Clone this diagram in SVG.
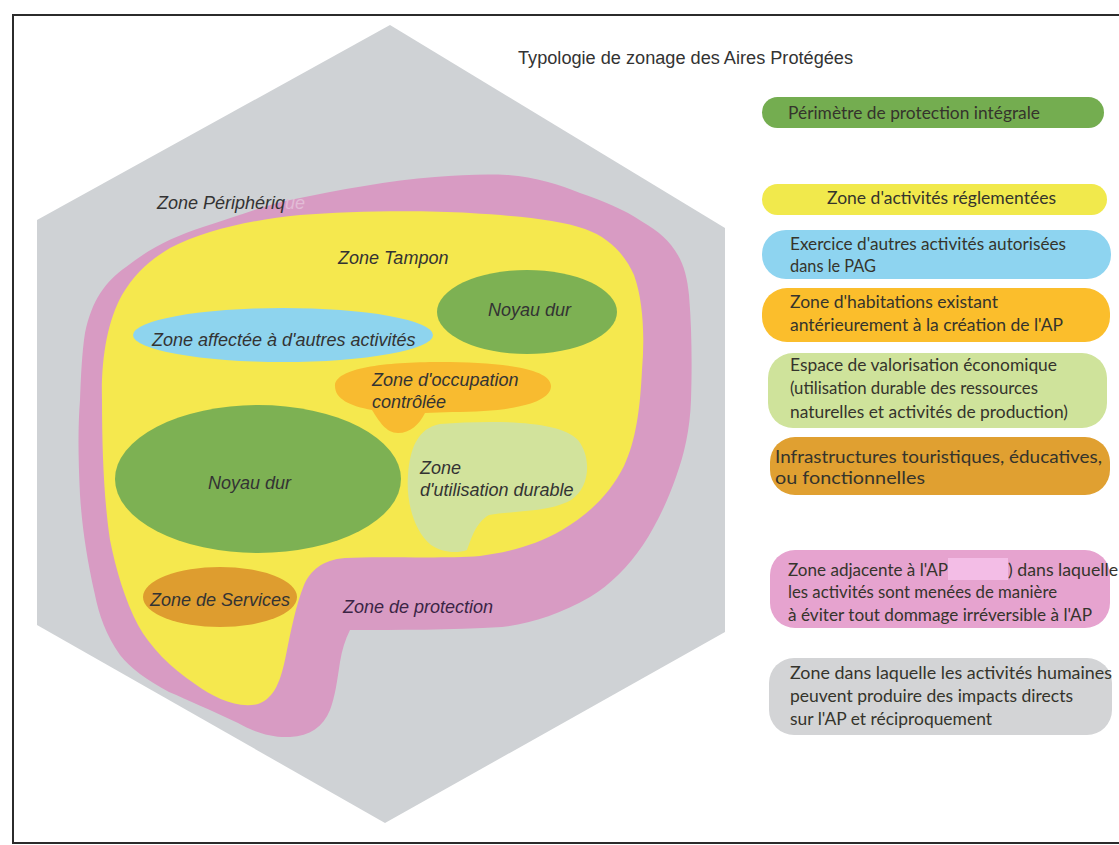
<svg xmlns="http://www.w3.org/2000/svg" width="1119" height="845" viewBox="0 0 1119 845">
<style>
.lbl{font-family:"Liberation Sans",Arial,sans-serif;font-style:italic;font-size:18px;fill:#333;}
.ttl{font-family:"Liberation Sans",Arial,sans-serif;font-size:18px;fill:#333;}
.leg{font-family:Lato,"Open Sans",sans-serif;font-size:16.5px;fill:#35342c;}
</style>
<rect x="0" y="0" width="1119" height="845" fill="#ffffff"/>
<rect x="13" y="15" width="1130" height="828" fill="none" stroke="#2b2b2b" stroke-width="2"/>
<text class="ttl" x="518" y="64" textLength="335" lengthAdjust="spacingAndGlyphs">Typologie de zonage des Aires Protégées</text>

<g id="zone-peripherique-hex">
<polygon points="390,25 725,228 725,632 385,823 37,625 37,220" fill="#cfd2d5"/>
</g>
<g id="zone-protection">
<path fill="#d89bc3" d="M 85,333 C 92,300 105,282 126,267 C 150,248 175,236 203,227 C 235,217 262,206 290,200 C 340,190 390,180 435,177 C 460,175 485,174 507,175 C 535,177 560,185 580,193 C 600,200 615,206 628,213 C 648,225 662,233 671,245 C 683,260 687,275 689,295 C 692,330 692,370 691,400 C 690,430 684,455 676,477 C 666,505 656,525 643,545 C 628,567 610,585 590,597 C 560,614 530,624 502,627 C 450,630 400,630 350,630 C 345,640 342,650 340,662 C 337,682 335,697 330,710 C 323,727 310,736 290,737 C 270,738 252,731 238,723 C 210,710 188,700 169,692 C 147,680 130,668 120,655 C 106,635 99,615 95,595 C 86,555 82,525 80,495 C 78,455 78,425 80,400 C 81,375 82,352 85,333 Z"/>
</g>
<g id="zone-tampon">
<path fill="#f5e84e" d="M 102,400 C 101,360 107,322 122,295 C 135,273 150,260 170,248 C 205,230 250,220 300,215 C 350,211 420,210 470,213 C 520,216 560,220 585,229 C 610,238 625,255 634,275 C 643,300 645,335 642,370 C 640,410 636,440 624,466 C 610,494 588,515 562,530 C 536,545 510,552 480,556 C 440,559 380,556 345,558 C 322,560 311,570 304,585 C 296,605 291,630 286,655 C 281,680 275,698 258,704 C 238,709 214,698 195,684 C 170,667 150,647 138,625 C 125,600 116,570 110,540 C 104,500 102,450 102,400 Z"/>
</g>

<g id="noyau-dur-1">
<ellipse cx="527" cy="312" rx="90" ry="42" fill="#7db153"/>
<text class="lbl" x="488" y="316">Noyau dur</text>
</g>
<g id="zone-affectee">
<ellipse cx="283" cy="335" rx="150" ry="27" fill="#8ed4ee"/>
<text class="lbl" x="152" y="346">Zone affectée à d'autres activités</text>
</g>
<g id="zone-occupation">
<path fill="#f8bb30" d="M 335,386 C 335,368 385,362 440,362 C 500,362 551,368 551,386 C 551,403 512,412 452,412 L 425,413 C 419,425 410,433 398,433 C 386,433 379,421 372,410 C 350,406 335,399 335,386 Z"/>
<text class="lbl" x="372" y="386">Zone d'occupation</text>
<text class="lbl" x="372" y="408">contrôlée</text>
</g>
<g id="noyau-dur-2">
<ellipse cx="258" cy="479" rx="143" ry="74" fill="#7db153"/>
<text class="lbl" x="208" y="489">Noyau dur</text>
</g>
<g id="zone-utilisation-durable">
<path fill="#d2e39c" d="M 440,424 C 490,420 560,420 578,440 C 592,458 590,488 571,500 C 551,512 512,511 489,515 C 475,523 471,540 467,550 C 456,554 441,552 431,545 C 413,530 406,500 408,475 C 410,448 418,428 440,424 Z"/>
<text class="lbl" x="420" y="474">Zone</text>
<text class="lbl" x="420" y="496">d'utilisation durable</text>
</g>
<g id="zone-services">
<ellipse cx="220" cy="597" rx="77" ry="30" fill="#de9d2f"/>
<text class="lbl" x="150" y="606">Zone de Services</text>
</g>
<g id="labels">
<text class="lbl" x="157" y="209">Zone Périphériq<tspan fill="#e2bcd6">ue</tspan></text>
<text class="lbl" x="338" y="264">Zone Tampon</text>
<text class="lbl" x="343" y="613" style="fill:#3b2545">Zone de protection</text>
</g>

<g id="leg-perimetre">
<rect x="762" y="97" width="342" height="31" rx="15.5" fill="#74ad50"/>
<text class="leg" x="788" y="119" textLength="252" lengthAdjust="spacingAndGlyphs">Périmètre de protection intégrale</text>
</g>
<g id="leg-activites-reglementees">
<rect x="762" y="184" width="345" height="31" rx="15.5" fill="#f1e94c"/>
<text class="leg" x="827" y="204" textLength="229" lengthAdjust="spacingAndGlyphs">Zone d'activités réglementées</text>
</g>
<g id="leg-autres-activites">
<rect x="762" y="230" width="349" height="49" rx="24" fill="#8ed4f0"/>
<text class="leg" x="790" y="250" textLength="276" lengthAdjust="spacingAndGlyphs">Exercice d'autres activités autorisées</text>
<text class="leg" x="790" y="272" textLength="86" lengthAdjust="spacingAndGlyphs">dans le PAG</text>
</g>
<g id="leg-habitations">
<rect x="762" y="288" width="348" height="54" rx="25" fill="#fbbe2c"/>
<text class="leg" x="790" y="308" textLength="208" lengthAdjust="spacingAndGlyphs">Zone d'habitations existant</text>
<text class="leg" x="790" y="331" textLength="273" lengthAdjust="spacingAndGlyphs">antérieurement à la création de l'AP</text>
</g>
<g id="leg-valorisation">
<rect x="768" y="353" width="339" height="75" rx="25" fill="#cfe39b"/>
<text class="leg" x="790" y="371" textLength="267" lengthAdjust="spacingAndGlyphs">Espace de valorisation économique</text>
<text class="leg" x="790" y="394" textLength="248" lengthAdjust="spacingAndGlyphs">(utilisation durable des ressources</text>
<text class="leg" x="790" y="418" textLength="278" lengthAdjust="spacingAndGlyphs">naturelles et activités de production)</text>
</g>
<g id="leg-infrastructures">
<rect x="770" y="437" width="340" height="58" rx="25" fill="#e0a031"/>
<text class="leg" x="775" y="463" textLength="327" lengthAdjust="spacingAndGlyphs">Infrastructures touristiques, éducatives,</text>
<text class="leg" x="775" y="484" textLength="150" lengthAdjust="spacingAndGlyphs">ou fonctionnelles</text>
</g>
<g id="leg-zone-adjacente">
<rect x="770" y="550" width="340" height="78" rx="25" fill="#e6a3cf"/>
<rect x="948" y="558" width="60" height="22" fill="#f3bde6"/>
<text class="leg" x="788" y="576" textLength="160" lengthAdjust="spacingAndGlyphs">Zone adjacente à l'AP</text>
<text class="leg" x="1008" y="576" textLength="110" lengthAdjust="spacingAndGlyphs">) dans laquelle</text>
<text class="leg" x="788" y="598" textLength="269" lengthAdjust="spacingAndGlyphs">les activités sont menées de manière</text>
<text class="leg" x="788" y="621" textLength="304" lengthAdjust="spacingAndGlyphs">à éviter tout dommage irréversible à l'AP</text>
</g>
<g id="leg-impacts">
<rect x="769" y="658" width="343" height="77" rx="25" fill="#d3d4d6"/>
<text class="leg" x="790" y="679" textLength="322" lengthAdjust="spacingAndGlyphs">Zone dans laquelle les activités humaines</text>
<text class="leg" x="790" y="702" textLength="283" lengthAdjust="spacingAndGlyphs">peuvent produire des impacts directs</text>
<text class="leg" x="790" y="725" textLength="202" lengthAdjust="spacingAndGlyphs">sur l'AP et réciproquement</text>
</g>
<g id="connectors"></g>
</svg>
